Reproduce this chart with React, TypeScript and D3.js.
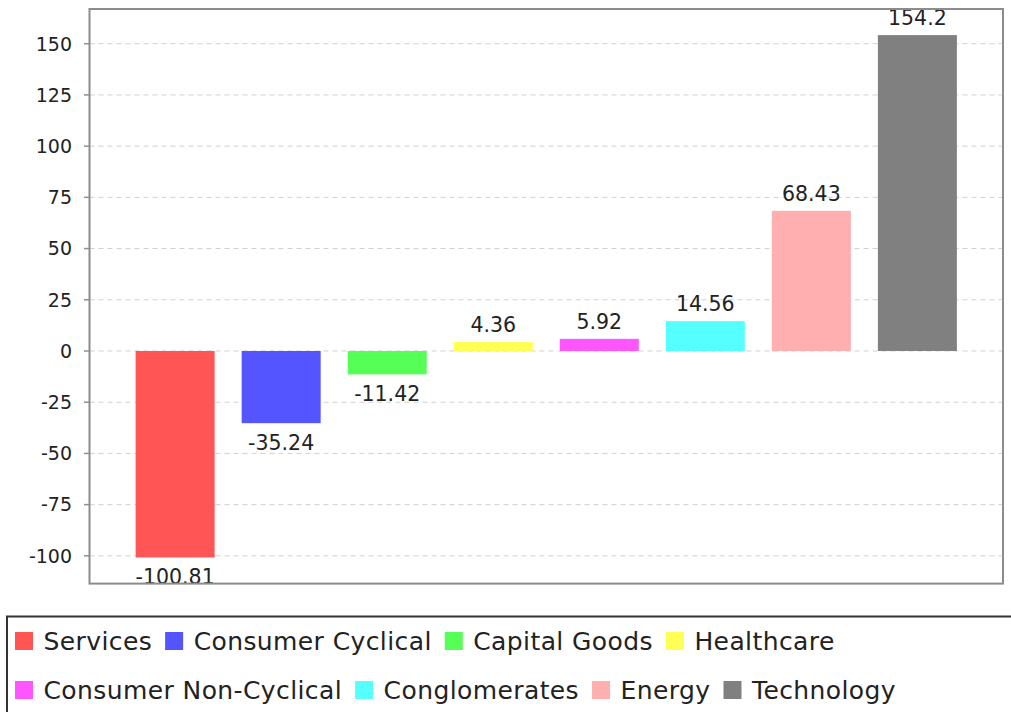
import React, { useEffect, useRef } from 'react';
import * as d3 from 'd3';

const categories = ['Services', 'Consumer Cyclical', 'Capital Goods', 'Healthcare',
    'Consumer Non-Cyclical', 'Conglomerates', 'Energy', 'Technology'];
const values = [-100.81, -35.24, -11.42, 4.36, 5.92, 14.56, 68.43, 154.2];
const colors = ['#ff5555', '#5555ff', '#55ff55', '#ffff55', '#ff55ff', '#55ffff', '#ffafaf', '#808080'];
const yTicks = [-100, -75, -50, -25, 0, 25, 50, 75, 100, 125, 150];

const WIDTH = 1011;
const HEIGHT = 712;

const App = () => {
    const svgRef = useRef<SVGSVGElement>(null);

    useEffect(() => {
        const svg = d3.select(svgRef.current);
        svg.selectAll('*').remove();

        const plot = { left: 89.5, right: 1003, top: 9, bottom: 583.6 };

        // 5% margin above and below the data range, like the original
        const lo = d3.min(values) as number;
        const hi = d3.max(values) as number;
        const pad = (hi - lo) * 0.05;
        const y = d3.scaleLinear().domain([lo - pad, hi + pad]).range([plot.bottom, plot.top]);

        const x = d3.scaleBand<string>()
            .domain(categories)
            .range([plot.left, plot.right])
            .paddingInner(0.255)
            .paddingOuter(0.435);

        svg.append('defs').append('clipPath')
            .attr('id', 'plot-clip')
            .append('rect')
            .attr('x', plot.left)
            .attr('y', plot.top)
            .attr('width', plot.right - plot.left)
            .attr('height', plot.bottom - plot.top);

        // gridlines
        svg.append('g')
            .selectAll('line')
            .data(yTicks)
            .enter().append('line')
            .attr('x1', plot.left)
            .attr('x2', plot.right)
            .attr('y1', d => y(d))
            .attr('y2', d => y(d))
            .attr('stroke', '#d0d0d0')
            .attr('stroke-width', 1)
            .attr('stroke-dasharray', '5,4');

        // bars
        const body = svg.append('g').attr('clip-path', 'url(#plot-clip)');
        body.selectAll('rect')
            .data(values)
            .enter().append('rect')
            .attr('x', (d, i) => x(categories[i]) as number)
            .attr('width', x.bandwidth())
            .attr('y', d => y(Math.max(0, d)))
            .attr('height', d => Math.abs(y(d) - y(0)))
            .attr('fill', (d, i) => colors[i]);

        body.selectAll('text')
            .data(values)
            .enter().append('text')
            .attr('x', (d, i) => (x(categories[i]) as number) + x.bandwidth() / 2)
            .attr('y', d => d >= 0 ? y(d) - 10 : y(d) + 27)
            .attr('text-anchor', 'middle')
            .style('font-family', '"DejaVu Sans", sans-serif')
            .style('font-size', '20.5px')
            .attr('fill', '#222')
            .text(d => String(d));

        // y axis ticks and labels
        const axis = svg.append('g');
        axis.selectAll('line')
            .data(yTicks)
            .enter().append('line')
            .attr('x1', plot.left - 5.5)
            .attr('x2', plot.left)
            .attr('y1', d => y(d))
            .attr('y2', d => y(d))
            .attr('stroke', '#909090')
            .attr('stroke-width', 1.5);
        axis.selectAll('text')
            .data(yTicks)
            .enter().append('text')
            .attr('x', 72)
            .attr('y', d => y(d))
            .attr('dy', '0.36em')
            .attr('text-anchor', 'end')
            .style('font-family', '"DejaVu Sans", sans-serif')
            .style('font-size', '19px')
            .attr('fill', '#222')
            .text(d => String(d));

        // plot outline
        svg.append('rect')
            .attr('x', plot.left)
            .attr('y', plot.top)
            .attr('width', plot.right - plot.left)
            .attr('height', plot.bottom - plot.top)
            .attr('fill', 'none')
            .attr('stroke', '#8c8c8c')
            .attr('stroke-width', 2);

        // legend box, runs off the right and bottom edges
        svg.append('rect')
            .attr('x', 7)
            .attr('y', 616.5)
            .attr('width', 1030)
            .attr('height', 120)
            .attr('fill', 'none')
            .attr('stroke', '#333')
            .attr('stroke-width', 2);

        const legend = svg.append('g');
        const startX = 15;
        const rowBase = [650, 699];
        let cx = startX;
        let row = 0;
        categories.forEach((name, i) => {
            const item = legend.append('g');
            const label = item.append('text')
                .attr('x', 28.5)
                .attr('y', 0)
                .style('font-family', '"DejaVu Sans", sans-serif')
                .style('font-size', '25px')
                .style('letter-spacing', '0.4px')
                .attr('fill', '#222')
                .text(name);
            const w = (label.node() as SVGTextElement).getComputedTextLength();
            if (cx + 28.5 + w > 1000 && cx > startX) {
                row += 1;
                cx = startX;
            }
            item.append('rect')
                .attr('x', 0)
                .attr('y', -18)
                .attr('width', 18)
                .attr('height', 18)
                .attr('fill', colors[i]);
            item.attr('transform', 'translate(' + cx + ',' + rowBase[row] + ')');
            cx += 28.5 + w + 13;
        });
    }, []);

    return (
        <svg ref={svgRef} width={WIDTH} height={HEIGHT}
             style={{ position: 'absolute', left: 0, top: 0, background: '#fff' }} />
    );
};

export default App;
